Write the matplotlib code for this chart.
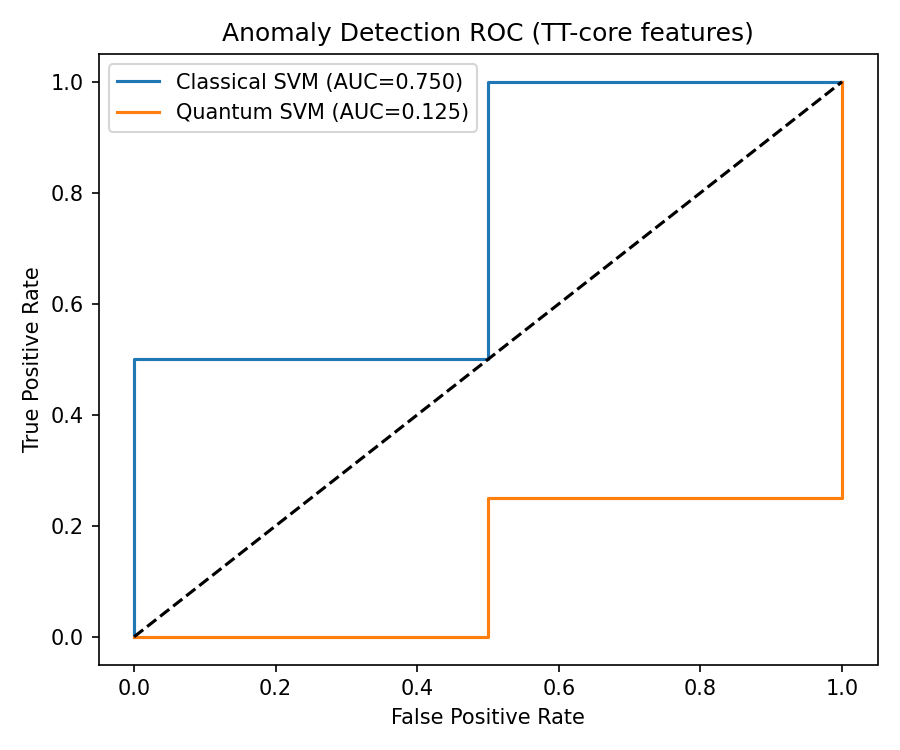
import matplotlib
matplotlib.use("Agg")
import matplotlib.pyplot as plt

classical_fpr = [0.0, 0.0, 0.5, 0.5, 1.0]
classical_tpr = [0.0, 0.5, 0.5, 1.0, 1.0]
quantum_fpr = [0.0, 0.5, 0.5, 1.0, 1.0]
quantum_tpr = [0.0, 0.0, 0.25, 0.25, 1.0]
classical_auc = 0.750
quantum_auc = 0.125

fig, ax = plt.subplots(figsize=(6, 5), dpi=150)
ax.plot(classical_fpr, classical_tpr, label=f"Classical SVM (AUC={classical_auc:.3f})")
ax.plot(quantum_fpr, quantum_tpr, label=f"Quantum SVM (AUC={quantum_auc:.3f})")
ax.plot([0, 1], [0, 1], "k--")
ax.set_xlabel("False Positive Rate")
ax.set_ylabel("True Positive Rate")
ax.set_title("Anomaly Detection ROC (TT-core features)")
ax.legend(loc="upper left")
fig.tight_layout()
fig.savefig("out.png")
